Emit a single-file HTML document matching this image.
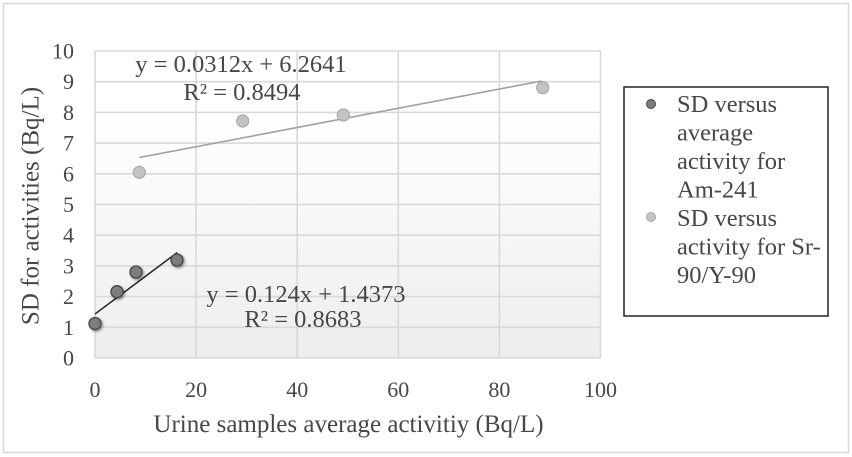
<!DOCTYPE html>
<html><head><meta charset="utf-8"><style>
html,body{margin:0;padding:0;background:#fff;}
svg{display:block;}
text{font-family:"Liberation Serif","Times New Roman",serif;fill:#474747;}
</style></head><body>
<svg width="852" height="457" viewBox="0 0 852 457" xmlns="http://www.w3.org/2000/svg">
<defs>
<linearGradient id="bg" x1="0" y1="0" x2="0" y2="1">
<stop offset="0" stop-color="#ffffff"/>
<stop offset="0.22" stop-color="#ffffff"/>
<stop offset="1" stop-color="#ededed"/>
</linearGradient>
<filter id="sh" x="-50%" y="-50%" width="200%" height="200%">
<feDropShadow dx="1.2" dy="1.5" stdDeviation="1.2" flood-color="#000" flood-opacity="0.45"/>
</filter>
</defs>
<rect x="3.5" y="3.5" width="845" height="449" fill="#fff" stroke="#d9d9d9" stroke-width="1.5"/>
<rect x="95" y="51" width="505.5" height="307" fill="url(#bg)"/>
<g stroke="#d9d9d9" stroke-width="1.6">
<line x1="95" y1="51" x2="600.5" y2="51"/>
<line x1="95" y1="81.7" x2="600.5" y2="81.7"/>
<line x1="95" y1="112.4" x2="600.5" y2="112.4"/>
<line x1="95" y1="143.1" x2="600.5" y2="143.1"/>
<line x1="95" y1="173.8" x2="600.5" y2="173.8"/>
<line x1="95" y1="204.5" x2="600.5" y2="204.5"/>
<line x1="95" y1="235.2" x2="600.5" y2="235.2"/>
<line x1="95" y1="265.9" x2="600.5" y2="265.9"/>
<line x1="95" y1="296.6" x2="600.5" y2="296.6"/>
<line x1="95" y1="327.3" x2="600.5" y2="327.3"/>
<line x1="95" y1="358" x2="600.5" y2="358"/>
<line x1="95" y1="51" x2="95" y2="358"/>
<line x1="196.1" y1="51" x2="196.1" y2="358"/>
<line x1="297.2" y1="51" x2="297.2" y2="358"/>
<line x1="398.3" y1="51" x2="398.3" y2="358"/>
<line x1="499.4" y1="51" x2="499.4" y2="358"/>
<line x1="600.5" y1="51" x2="600.5" y2="358"/>
</g>
<g font-size="22" text-anchor="end">
<text x="74" y="58.5">10</text>
<text x="74" y="89.2">9</text>
<text x="74" y="119.9">8</text>
<text x="74" y="150.6">7</text>
<text x="74" y="181.3">6</text>
<text x="74" y="212">5</text>
<text x="74" y="242.7">4</text>
<text x="74" y="273.4">3</text>
<text x="74" y="304.1">2</text>
<text x="74" y="334.8">1</text>
<text x="74" y="365.5">0</text>
</g>
<g font-size="22" text-anchor="middle">
<text x="95" y="397">0</text>
<text x="196.1" y="397">20</text>
<text x="297.2" y="397">40</text>
<text x="398.3" y="397">60</text>
<text x="499.4" y="397">80</text>
<text x="600.5" y="397">100</text>
</g>
<text x="348.5" y="432" font-size="25" text-anchor="middle">Urine samples average activitiy (Bq/L)</text>
<text transform="translate(38.5,206) rotate(-90)" font-size="25" text-anchor="middle">SD for activities (Bq/L)</text>
<!-- Sr trendline -->
<line x1="139.3" y1="157.5" x2="541.7" y2="81" stroke="#a0a0a0" stroke-width="1.6"/>
<!-- Am trendline -->
<line x1="95" y1="314" x2="177.3" y2="252.5" stroke="#2e2e2e" stroke-width="1.6"/>
<!-- Sr points -->
<g fill="#c3c3c3" stroke="#a8a8a8" stroke-width="1.2">
<circle cx="139.3" cy="172.3" r="6"/>
<circle cx="242.7" cy="121" r="6"/>
<circle cx="343.3" cy="115" r="6"/>
<circle cx="542.7" cy="87.7" r="6"/>
</g>
<!-- Am points -->
<g fill="#7d7d7d" stroke="#474747" stroke-width="1.3" filter="url(#sh)">
<circle cx="95" cy="323.5" r="6"/>
<circle cx="117" cy="291.7" r="6"/>
<circle cx="136" cy="272" r="6"/>
<circle cx="177" cy="260" r="6"/>
</g>
<g font-size="24.5" text-anchor="middle">
<text x="241" y="72">y = 0.0312x + 6.2641</text>
<text x="242" y="100">R² = 0.8494</text>
<text x="306" y="302">y = 0.124x + 1.4373</text>
<text x="303" y="327">R² = 0.8683</text>
</g>
<!-- Legend -->
<rect x="624" y="87" width="204" height="229" fill="#fff" stroke="#222" stroke-width="1.5"/>
<circle cx="651" cy="104" r="4.5" fill="#7d7d7d" stroke="#474747" stroke-width="1"/>
<circle cx="651" cy="217" r="4.5" fill="#c3c3c3" stroke="#a8a8a8" stroke-width="1"/>
<g font-size="24.5">
<text x="677" y="112">SD versus</text>
<text x="677" y="140.5">average</text>
<text x="677" y="169">activity for</text>
<text x="677" y="197.5">Am-241</text>
<text x="677" y="226">SD versus</text>
<text x="677" y="254.5">activity for Sr-</text>
<text x="677" y="283">90/Y-90</text>
</g>
</svg>
</body></html>
